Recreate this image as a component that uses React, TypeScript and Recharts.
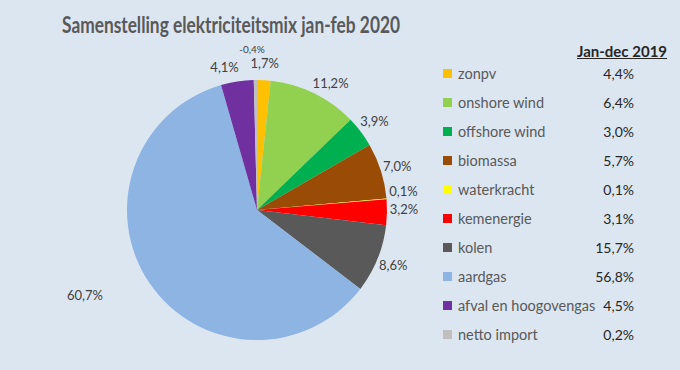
import React from "react";
import { PieChart, Pie, Cell } from "recharts";

const categories = [
  "zonpv",
  "onshore wind",
  "offshore wind",
  "biomassa",
  "waterkracht",
  "kernenergie",
  "kolen",
  "aardgas",
  "afval en hoogovengas",
  "netto import",
];
const legendLabels = [
  "zonpv",
  "onshore wind",
  "offshore wind",
  "biomassa",
  "waterkracht",
  "kemenergie",
  "kolen",
  "aardgas",
  "afval en hoogovengas",
  "netto import",
];
const share2020 = [1.7, 11.2, 3.9, 7.0, 0.1, 3.2, 8.6, 60.7, 4.1, -0.4];
const share2019 = [4.4, 6.4, 3.0, 5.7, 0.1, 3.1, 15.7, 56.8, 4.5, 0.2];
const COLORS = [
  "#ffc000",
  "#92d050",
  "#00b050",
  "#9a4c06",
  "#ffff00",
  "#ff0000",
  "#595959",
  "#8eb4e3",
  "#7030a0",
  "#bfbfbf",
];

const BG = "#dce6f1";
const FONT = "Lato, 'Open Sans', sans-serif";
const fmt = (v: number) => v.toFixed(1).replace(".", ",") + "%";

const data = categories.map((name, i) => ({
  name,
  value: Math.abs(share2020[i]),
  raw: share2020[i],
}));

const RAD = Math.PI / 180;
// Excel's "best fit" nudges a few labels off the slice's mid angle
const ANGLE_NUDGE: Record<number, number> = { 1: -4, 7: -8, 8: 4 };
const Y_NUDGE: Record<number, number> = { 4: -6, 5: -4 };

function renderLabel(props: any) {
  const { cx, cy, midAngle, outerRadius, payload, index } = props;
  const raw = payload?.raw ?? share2020[index];
  const neg = raw < 0;
  const big = Math.abs(raw) > 30;
  const r = outerRadius + (big ? 62 : neg ? 31 : 17);
  const angle = midAngle + (ANGLE_NUDGE[index] ?? 0);
  const x = cx + r * Math.cos(-angle * RAD) - (neg ? 3 : 0);
  const y = cy + r * Math.sin(-angle * RAD) + (Y_NUDGE[index] ?? 0);
  return (
    <text
      x={x}
      y={y}
      textAnchor="middle"
      dominantBaseline="central"
      fill="#404040"
      fontSize={neg ? 10 : 13}
      fontFamily={FONT}
    >
      {fmt(raw)}
    </text>
  );
}

export default function App() {
  return (
    <div
      style={{
        position: "fixed",
        left: 0,
        top: 0,
        width: 680,
        height: 370,
        background: BG,
        fontFamily: FONT,
        overflow: "hidden",
      }}
    >
      <svg width={680} height={50} style={{ position: "absolute", left: 0, top: 0 }}>
        <text
          x={62}
          y={33}
          fontSize={23}
          fontWeight={700}
          fill="#595959"
          fontFamily={FONT}
          textLength={338}
          lengthAdjust="spacingAndGlyphs"
        >
          Samenstelling elektriciteitsmix jan-feb 2020
        </text>
      </svg>
      <div style={{ position: "absolute", left: 0, top: 0 }}>
        <PieChart width={440} height={370}>
          <Pie
            data={data}
            dataKey="value"
            nameKey="name"
            cx={252}
            cy={205}
            outerRadius={130}
            startAngle={90}
            endAngle={-270}
            stroke="none"
            label={renderLabel}
            labelLine={false}
            isAnimationActive={false}
          >
            {data.map((_, i) => (
              <Cell key={i} fill={COLORS[i]} />
            ))}
          </Pie>
        </PieChart>
      </div>
      <div
        style={{
          position: "absolute",
          left: 577,
          top: 42,
          fontSize: 15,
          fontWeight: 700,
          color: "#262626",
          textDecoration: "underline",
          whiteSpace: "nowrap",
        }}
      >
        Jan-dec 2019
      </div>
      {legendLabels.map((label, i) => (
        <div
          key={label}
          style={{
            position: "absolute",
            left: 443,
            top: 63 + i * 29,
            width: 200,
            height: 20,
            display: "flex",
            alignItems: "center",
            whiteSpace: "nowrap",
          }}
        >
          <span
            style={{
              display: "inline-block",
              width: 9,
              height: 9,
              background: COLORS[i],
              marginRight: 6,
            }}
          />
          <span style={{ fontSize: 14.5, color: "#595959" }}>{label}</span>
          <span
            style={{
              position: "absolute",
              right: 9,
              fontSize: 14,
              color: "#262626",
            }}
          >
            {fmt(share2019[i])}
          </span>
        </div>
      ))}
    </div>
  );
}
